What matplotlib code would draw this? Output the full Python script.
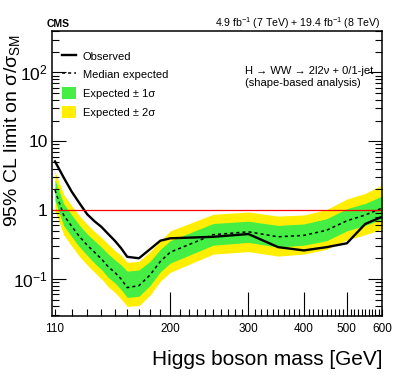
import numpy as np
import matplotlib
matplotlib.use('Agg')
import matplotlib.pyplot as plt
from matplotlib.patches import Patch
from matplotlib.lines import Line2D

plt.rcParams['font.family'] = ['Liberation Sans', 'DejaVu Sans']
plt.rcParams['mathtext.fontset'] = 'custom'
plt.rcParams['mathtext.rm'] = 'Liberation Sans'
plt.rcParams['mathtext.it'] = 'Liberation Sans:italic'
plt.rcParams['mathtext.bf'] = 'Liberation Sans:bold'

# Higgs mass points [GeV]
mass = [110, 115, 120, 125, 130, 135, 140, 145, 150, 155, 160, 170, 180,
        190, 200, 250, 300, 350, 400, 450, 500, 550, 600]

# 95% CL limits on sigma/sigma_SM
observed = [5.1, 3.0, 1.85, 1.25, 0.87, 0.69, 0.57, 0.45, 0.36, 0.28, 0.21, 0.20, 0.27,
            0.36, 0.39, 0.41, 0.45, 0.29, 0.26, 0.29, 0.33, 0.63, 0.80]
expected = [1.95, 0.85, 0.58, 0.41, 0.31, 0.245, 0.195, 0.15, 0.125, 0.10, 0.075, 0.08, 0.114,
            0.18, 0.245, 0.44, 0.485, 0.41, 0.43, 0.51, 0.70, 0.85, 1.07]
exp_p1 = [2.75, 1.25, 0.85, 0.60, 0.45, 0.36, 0.29, 0.23, 0.19, 0.16, 0.13, 0.135, 0.18,
          0.27, 0.36, 0.64, 0.69, 0.60, 0.63, 0.75, 1.05, 1.25, 1.6]
exp_p2 = [3.6, 1.7, 1.15, 0.82, 0.62, 0.49, 0.40, 0.32, 0.26, 0.22, 0.175, 0.18, 0.25,
          0.36, 0.50, 0.87, 0.94, 0.82, 0.85, 1.02, 1.45, 1.75, 2.3]
exp_m1 = [1.38, 0.60, 0.41, 0.29, 0.22, 0.17, 0.137, 0.105, 0.088, 0.07, 0.054, 0.056, 0.08,
          0.127, 0.17, 0.31, 0.34, 0.29, 0.31, 0.36, 0.50, 0.60, 0.74]
exp_m2 = [1.0, 0.44, 0.30, 0.21, 0.16, 0.125, 0.10, 0.077, 0.064, 0.051, 0.040, 0.041, 0.058,
          0.093, 0.125, 0.23, 0.25, 0.215, 0.23, 0.27, 0.37, 0.44, 0.53]

x_major = [200, 300, 400, 500]
x_minor = [m for m in range(110, 601, 10) if m not in x_major]
y_major = [0.1, 1, 10, 100]
y_labels = ['$10^{-1}$', '1', '10', '$10^{2}$']

green = '#44ee44'
yellow = '#ffee00'

W, H = 399, 383
fig = plt.figure(figsize=(W / 100, H / 100), dpi=100)
ax = fig.add_axes([52 / W, 1 - 316 / H, (382 - 52) / W, (316 - 31) / H])

# bandes +-2 sigma et +-1 sigma
ax.fill_between(mass, exp_m2, exp_p2, color=yellow, lw=0)
ax.fill_between(mass, exp_m1, exp_p1, color=green, lw=0)
ax.plot(mass, expected, color='k', ls=(0, (2, 2)), lw=1.1)
ax.plot(mass, observed, color='k', lw=1.7)
ax.axhline(1, color='red', lw=0.9)

ax.set_xscale('log')
ax.set_yscale('log')
ax.set_xlim(108.3, 600)
ax.set_ylim(0.029, 400)

# axe x
ax.set_xticks(x_major, [str(m) for m in x_major])
ax.set_xticks(x_minor, [str(m) if m in (110, 600) else '' for m in x_minor], minor=True)
ax.tick_params(axis='x', which='major', length=17, width=0.8, direction='in',
               labelsize=8.5, pad=5)
ax.tick_params(axis='x', which='minor', length=5, width=0.8, direction='in',
               labelsize=8.5, pad=5)

# axe y
ax.set_yticks(y_major, y_labels)
ax.tick_params(axis='y', which='major', length=10, width=0.8, direction='in',
               right=True, labelsize=12.5, pad=3)
ax.tick_params(axis='y', which='minor', length=5, width=0.8, direction='in',
               right=True)
for s in ax.spines.values():
    s.set_linewidth(1.1)

handles = [Line2D([], [], color='k', lw=1.7),
           Line2D([], [], color='k', ls=(0, (2, 2)), lw=1.1),
           Patch(facecolor=green, edgecolor='none'),
           Patch(facecolor=yellow, edgecolor='none')]
labels = ['Observed', 'Median expected', 'Expected ± 1σ', 'Expected ± 2σ']
fig.legend(handles, labels, loc='upper left', bbox_to_anchor=(62 / W, 1 - 50 / H),
           frameon=False, fontsize=8, borderpad=0, borderaxespad=0,
           handlelength=1.3, handleheight=1.25, handletextpad=0.55, labelspacing=0.62)

fig.text(245 / W, 1 - 73.5 / H, 'H → WW → 2l2ν + 0/1-jet', fontsize=8)
fig.text(245 / W, 1 - 86.5 / H, '(shape-based analysis)', fontsize=8)

fig.text(47 / W, 1 - 27 / H, 'CMS', fontsize=7.5, fontweight='bold')
fig.text(380 / W, 1 - 27 / H, '4.9 fb$^{-1}$ (7 TeV) + 19.4 fb$^{-1}$ (8 TeV)',
         fontsize=7.6, ha='right')

fig.text(12 / W, 1 - 131 / H, '95% CL limit on σ/σ$_{\\rm SM}$', fontsize=14,
         rotation=90, ha='center', va='center')
fig.text(382 / W, 1 - 365 / H, 'Higgs boson mass [GeV]', fontsize=15, ha='right')

fig.savefig('out.png', dpi=100)
